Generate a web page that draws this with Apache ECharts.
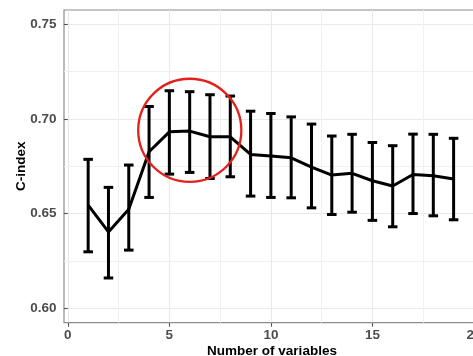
<!DOCTYPE html>
<html>
<head>
<meta charset="utf-8">
<script src="https://cdn.jsdelivr.net/npm/echarts@6/dist/echarts.min.js"></script>
<style>
html,body{margin:0;padding:0;background:#fff;}
#chart{width:473px;height:356px;}
</style>
</head>
<body>
<div id="chart"></div>
<script>
// ---- data ----
const nVars = [1,2,3,4,5,6,7,8,9,10,11,12,13,14,15,16,17,18,19];
const cIndexMean  = [0.6544,0.6403,0.6522,0.6826,0.6931,0.6935,0.6905,0.6905,0.6812,0.6803,0.6794,0.6745,0.6703,0.6712,0.6673,0.6645,0.6706,0.6699,0.6682];
const cIndexUpper = [0.6786,0.6638,0.6756,0.7065,0.7148,0.7143,0.7127,0.7120,0.7040,0.7028,0.7010,0.6972,0.6909,0.6918,0.6875,0.6858,0.6919,0.6918,0.6897];
const cIndexLower = [0.6298,0.6160,0.6307,0.6585,0.6708,0.6717,0.6685,0.6694,0.6592,0.6585,0.6583,0.6530,0.6495,0.6507,0.6464,0.6430,0.6500,0.6488,0.6467];
const yTicks = [0.60, 0.65, 0.70, 0.75];
const yMinorTicks = [0.625, 0.675, 0.725];
const xTicks = [0, 5, 10, 15, 20];
const xMinorTicks = [2.5, 7.5, 12.5, 17.5];
const highlightCenter = [6.005, 0.6939]; // circled region (x, C-index)
const highlightRadiusX = 2.54;           // in x units

const FONT = '"Liberation Sans", Arial, Helvetica, sans-serif';
const chart = echarts.init(document.getElementById('chart'), null, {renderer: 'canvas'});

const meanData = nVars.map((x, i) => [x, cIndexMean[i]]);
const errData = nVars.map((x, i) => [x, cIndexLower[i], cIndexUpper[i]]);

const xRange = {min: -0.19, max: 20.3};
const yRange = {min: 0.5924, max: 0.7574};

const option = {
  animation: false,
  backgroundColor: '#fff',
  grid: {
    left: 64, top: 10, right: -7, bottom: 33.3,
    outerBoundsMode: 'none', containLabel: false,
    show: true, borderColor: '#8c8c8c', borderWidth: 1.2, backgroundColor: '#fff'
  },
  xAxis: [{
    type: 'value', min: xRange.min, max: xRange.max,
    name: 'Number of variables', nameLocation: 'middle', nameGap: 21.5, nameMoveOverlap: false,
    nameTextStyle: {fontFamily: FONT, fontWeight: 'bold', fontSize: 13.5, color: '#000'},
    axisLine: {show: false},
    axisTick: {show: true, length: 4, lineStyle: {color: '#555', width: 1.1}, customValues: xTicks},
    axisLabel: {customValues: xTicks, margin: 5.5, fontFamily: FONT, fontWeight: 'bold', fontSize: 13.5, color: '#4d4d4d'},
    splitLine: {show: true, lineStyle: {color: '#e9e9e9', width: 1.1}}
  }, {
    type: 'value', min: xRange.min, max: xRange.max, position: 'bottom',
    axisLine: {show: false},
    axisTick: {show: false, customValues: xMinorTicks},
    axisLabel: {show: false},
    splitLine: {show: true, lineStyle: {color: '#f0f0f0', width: 1}}
  }],
  yAxis: [{
    type: 'value', min: yRange.min, max: yRange.max,
    name: 'C-index', nameLocation: 'middle', nameGap: 36, nameRotate: 90, nameMoveOverlap: false,
    nameTextStyle: {fontFamily: FONT, fontWeight: 'bold', fontSize: 13.5, color: '#000'},
    axisLine: {show: false},
    axisTick: {show: true, length: 4, lineStyle: {color: '#555', width: 1.1}, customValues: yTicks},
    axisLabel: {customValues: yTicks, margin: 7.5, fontFamily: FONT, fontWeight: 'bold', fontSize: 13.5, color: '#4d4d4d',
      formatter: v => v.toFixed(2)},
    splitLine: {show: true, lineStyle: {color: '#e9e9e9', width: 1.1}}
  }, {
    type: 'value', min: yRange.min, max: yRange.max, position: 'left',
    axisLine: {show: false},
    axisTick: {show: false, customValues: yMinorTicks},
    axisLabel: {show: false},
    splitLine: {show: true, lineStyle: {color: '#f0f0f0', width: 1}}
  }],
  series: [{
    type: 'custom',
    name: 'errorbars',
    xAxisIndex: 0, yAxisIndex: 0,
    encode: {x: 0, y: [1, 2]},
    data: errData,
    renderItem: function (params, api) {
      const x = api.value(0), lo = api.value(1), hi = api.value(2);
      const pLo = api.coord([x, lo]), pHi = api.coord([x, hi]);
      const hw = api.size([0.235, 0])[0];
      const st = {stroke: '#000', lineWidth: 3, fill: null};
      return {type: 'group', children: [
        {type: 'line', shape: {x1: pLo[0], y1: pLo[1], x2: pHi[0], y2: pHi[1]}, style: st},
        {type: 'line', shape: {x1: pLo[0] - hw, y1: pLo[1], x2: pLo[0] + hw, y2: pLo[1]}, style: st},
        {type: 'line', shape: {x1: pHi[0] - hw, y1: pHi[1], x2: pHi[0] + hw, y2: pHi[1]}, style: st}
      ]};
    },
    z: 3
  }, {
    type: 'line',
    name: 'mean',
    xAxisIndex: 0, yAxisIndex: 0,
    data: meanData,
    showSymbol: false, symbol: 'none',
    lineStyle: {color: '#000', width: 3, join: 'round'},
    z: 4
  }, {
    type: 'custom',
    name: 'highlight',
    xAxisIndex: 0, yAxisIndex: 0,
    data: [highlightCenter],
    renderItem: function (params, api) {
      const c = api.coord([api.value(0), api.value(1)]);
      const r = api.size([highlightRadiusX, 0])[0];
      return {type: 'circle', shape: {cx: c[0], cy: c[1], r: r},
        style: {stroke: '#e3211c', lineWidth: 2.3, fill: null}};
    },
    z: 5
  }]
};
chart.setOption(option);
</script>
</body>
</html>
